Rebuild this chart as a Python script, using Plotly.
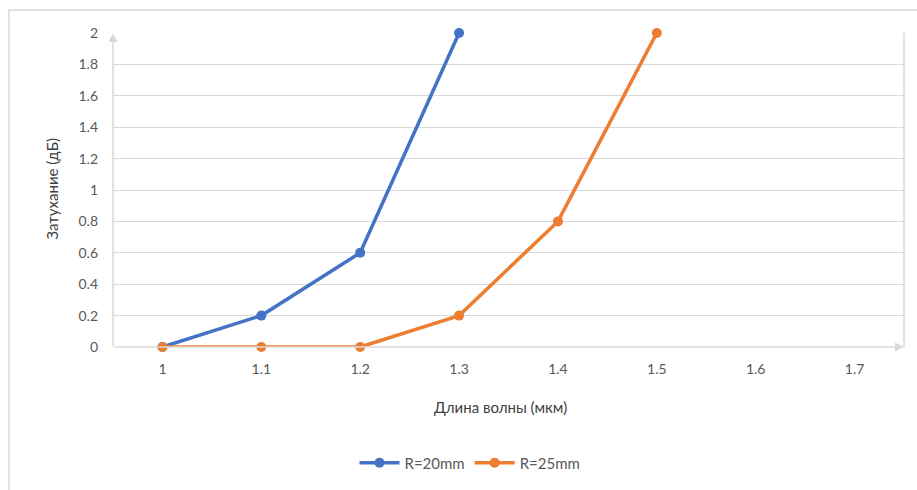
import plotly.graph_objects as go

categories = ["1", "1.1", "1.2", "1.3", "1.4", "1.5", "1.6", "1.7"]
r20_values = [0, 0.2, 0.6, 2.0, None, None, None, None]
r25_values = [0, 0, 0, 0.2, 0.8, 2.0, None, None]
y_ticks = [0, 0.2, 0.4, 0.6, 0.8, 1.0, 1.2, 1.4, 1.6, 1.8, 2.0]
y_tick_labels = ["0", "0.2", "0.4", "0.6", "0.8", "1", "1.2", "1.4", "1.6", "1.8", "2"]

FONT = "Lato, Calibri, Carlito, 'Liberation Sans', sans-serif"
TXT = "#595959"
GRID = "#d9d9d9"

fig = go.Figure()
fig.add_trace(go.Scatter(x=categories, y=r20_values, mode="lines+markers", name="R=20mm",
                         line=dict(color="#4472C4", width=3.5), marker=dict(size=10, color="#4472C4"),
                         cliponaxis=False))
fig.add_trace(go.Scatter(x=categories, y=r25_values, mode="lines+markers", name="R=25mm",
                         line=dict(color="#ED7D31", width=3.5), marker=dict(size=10, color="#ED7D31"),
                         cliponaxis=False))

W, H = 917, 490
L, R, T, B = 113, 13, 33, 142
pw, ph = W - L - R, H - T - B

def px(x):
    return (x - L) / pw

def py(y):
    return (H - B - y) / ph

fig.update_layout(
    width=W, height=H,
    margin=dict(l=L, r=R, t=T, b=B),
    paper_bgcolor="white", plot_bgcolor="white",
    font=dict(family=FONT, size=14, color=TXT),
    showlegend=True,
    legend=dict(orientation="h", x=px(470), xanchor="center", y=py(463), yanchor="middle",
                font=dict(size=15, color=TXT), itemwidth=40, tracegroupgap=0),
    xaxis=dict(type="category", range=[-0.5, 7.5], showgrid=False, showline=False, zeroline=False,
               ticks="", tickfont=dict(size=14, color=TXT), ticklabelstandoff=12),
    yaxis=dict(range=[0, 2], tickvals=y_ticks, ticktext=y_tick_labels, showgrid=True, gridcolor=GRID,
               gridwidth=1, showline=False, zeroline=False, ticks="", tickfont=dict(size=14, color=TXT),
               ticklabelstandoff=14),
    shapes=[
        dict(type="rect", xref="paper", yref="paper", x0=px(9), x1=px(940), y0=py(520), y1=py(10),
             line=dict(color=GRID, width=1.5), layer="below"),
        dict(type="line", xref="paper", yref="paper", x0=1, x1=1, y0=0, y1=1,
             line=dict(color=GRID, width=1.5), layer="below"),
    ],
    annotations=[
        dict(text="Длина волны (мкм)", xref="paper", yref="paper", x=px(500), y=py(408),
             xanchor="center", yanchor="middle", showarrow=False, font=dict(size=15, color="#404040")),
        dict(text="Затухание (дБ)", xref="paper", yref="paper", x=px(52), y=py(190),
             xanchor="center", yanchor="middle", showarrow=False, textangle=-90,
             font=dict(size=15, color="#404040")),
        dict(text="", xref="paper", yref="paper", x=0, y=py(33), ax=0, ay=315, axref="pixel", ayref="pixel",
             showarrow=True, arrowhead=2, arrowsize=1.2, arrowwidth=1.5, arrowcolor=GRID),
        dict(text="", xref="paper", yref="paper", x=px(904), y=0, ax=-791, ay=0, axref="pixel", ayref="pixel",
             showarrow=True, arrowhead=2, arrowsize=1.2, arrowwidth=1.5, arrowcolor=GRID),
    ],
)

fig.write_html("out.html")
